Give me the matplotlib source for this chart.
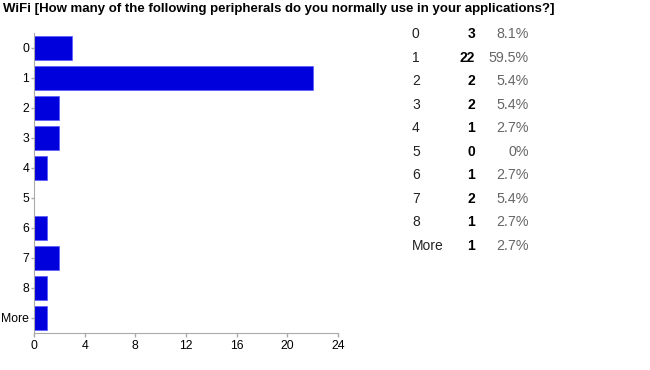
import matplotlib
matplotlib.use("Agg")
import matplotlib.pyplot as plt

categories = ["0", "1", "2", "3", "4", "5", "6", "7", "8", "More"]
counts = [3, 22, 2, 2, 1, 0, 1, 2, 1, 1]
percents = ["8.1%", "59.5%", "5.4%", "5.4%", "2.7%", "0%", "2.7%", "5.4%", "2.7%", "2.7%"]
xticks = [0, 4, 8, 12, 16, 20, 24]
title = "WiFi [How many of the following peripherals do you normally use in your applications?]"

plt.rcParams['font.family'] = ['Liberation Sans', 'DejaVu Sans']

fig = plt.figure(figsize=(6.5, 3.7), dpi=100)
ax = fig.add_axes([34/650, 1-333/370, (338-34)/650, 300/370])
ypos = list(range(len(categories)))
ax.barh(ypos, counts, height=0.8, color="#0000dd", edgecolor="#5a5aff", linewidth=0.5)
ax.set_ylim(len(categories)-0.5, -0.5)
ax.set_xlim(0, 24)
ax.set_xticks(xticks)
ax.set_xticklabels([str(t) for t in xticks])
ax.set_yticks(ypos)
ax.set_yticklabels(categories)
for s in ["top", "right"]:
    ax.spines[s].set_visible(False)
for s in ["left", "bottom"]:
    ax.spines[s].set_color("#aaaaaa")
ax.tick_params(axis="both", colors="#aaaaaa", labelcolor="black", labelsize=8.8, length=3, width=1, pad=2)
ax.tick_params(axis="y", length=2, pad=1.5)

fig.text(3/650, 1-9/370, title, fontsize=9.5, fontweight="bold", ha="left", va="center")

y0, dy = 34, (246-34)/9
for i, (c, n, p) in enumerate(zip(categories, counts, percents)):
    y = 1 - (y0 + i*dy)/370
    fig.text(412/650, y, c, fontsize=10, ha="left", va="center", color="#222222")
    fig.text(475/650, y, str(n), fontsize=10, fontweight="bold", ha="right", va="center", color="black")
    fig.text(529/650, y, p, fontsize=10.3, ha="right", va="center", color="#666666")

fig.savefig("out.png", dpi=100)
